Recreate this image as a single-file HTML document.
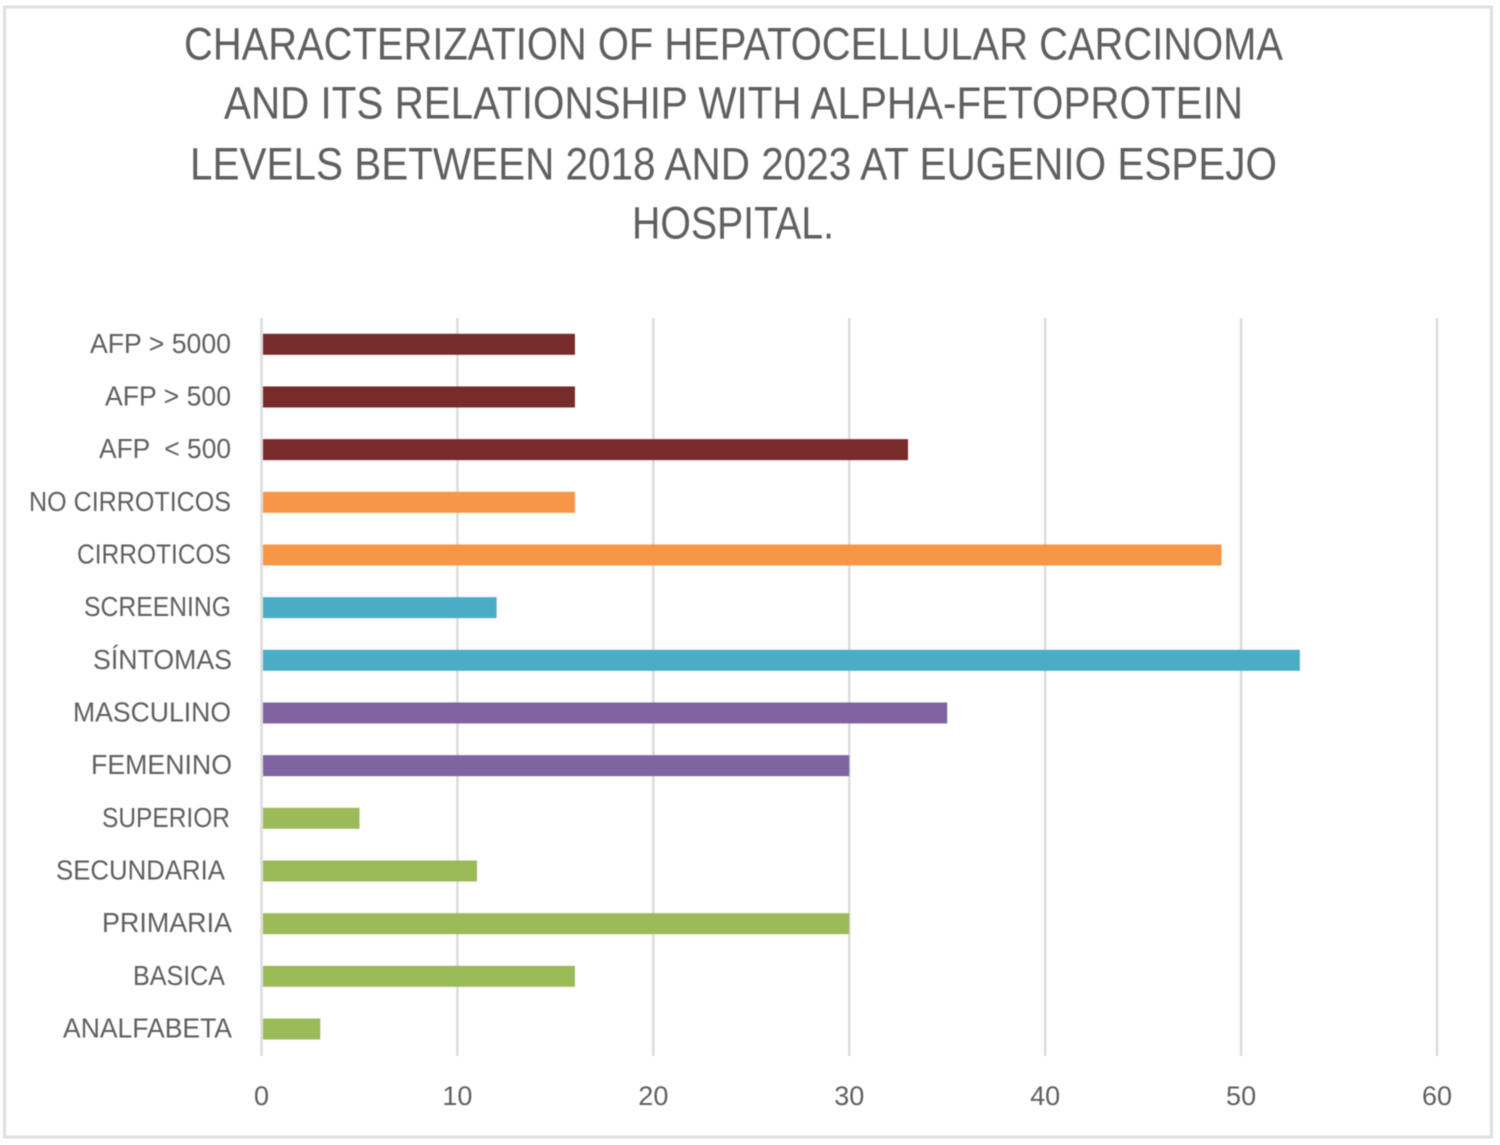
<!DOCTYPE html>
<html lang="en">
<head>
<meta charset="utf-8">
<title>Characterization of Hepatocellular Carcinoma</title>
<style>
html,body{margin:0;padding:0;background:#fff;width:1500px;height:1145px;overflow:hidden}
svg{display:block}
text{font-family:"Liberation Sans",sans-serif;fill:#5f5f5f}
#chart{filter:blur(0.4px)}
</style>
</head>
<body>
<svg id="chart" width="1500" height="1145" viewBox="0 0 1500 1145" xmlns="http://www.w3.org/2000/svg">
  <rect x="4.5" y="7" width="1487" height="1130" fill="#fff" stroke="#e0e0e0" stroke-width="3"/>
  <g font-size="45" text-anchor="start">
    <text x="184" y="59.5" textLength="1099" lengthAdjust="spacingAndGlyphs">CHARACTERIZATION OF HEPATOCELLULAR CARCINOMA</text>
    <text x="224" y="118.5" textLength="1019" lengthAdjust="spacingAndGlyphs">AND ITS RELATIONSHIP WITH ALPHA-FETOPROTEIN</text>
    <text x="190" y="179.5" textLength="1087" lengthAdjust="spacingAndGlyphs">LEVELS BETWEEN 2018 AND 2023 AT EUGENIO ESPEJO</text>
    <text x="632" y="238.5" textLength="202" lengthAdjust="spacingAndGlyphs">HOSPITAL.</text>
  </g>
  <g id="grid"></g>
  <g id="bars"></g>
  <g id="ylabels"></g>
  <g id="xlabels"></g>
</svg>
<script>
const categories = ["AFP > 5000","AFP > 500","AFP  < 500","NO CIRROTICOS","CIRROTICOS","SCREENING","SÍNTOMAS","MASCULINO","FEMENINO","SUPERIOR","SECUNDARIA","PRIMARIA","BASICA","ANALFABETA"];
const values = [16,16,33,16,49,12,53,35,30,5,11,30,16,3];
const groups = ["afp","afp","afp","cirrhosis","cirrhosis","detection","detection","sex","sex","education","education","education","education","education"];
const xTicks = [0,10,20,30,40,50,60];

const groupColors = {afp:"#772b2a",cirrhosis:"#f79646",detection:"#4bacc6",sex:"#8064a2",education:"#9bbb59"};
const labelFit = {
  "AFP > 5000":[231,141],"AFP > 500":[231,126],"AFP  < 500":[231,132],"NO CIRROTICOS":[231,202],
  "CIRROTICOS":[231,154],"SCREENING":[231,147],"SÍNTOMAS":[232,139],"MASCULINO":[231,158],
  "FEMENINO":[232,141],"SUPERIOR":[230,128],"SECUNDARIA":[225,169],"PRIMARIA":[232,130],
  "BASICA":[225,92],"ANALFABETA":[232,169]
};

const NS = "http://www.w3.org/2000/svg";
const xAxisMin = 0, xAxisMax = 60, plotLeft = 261.5, plotRight = 1437, plotTop = 318, plotBottom = 1056;
const firstRow = 344.3, lastRow = 1029, barHeight = 21;

function xScale(v){ return plotLeft + (v - xAxisMin) / (xAxisMax - xAxisMin) * (plotRight - plotLeft); }
function yScale(i){ return firstRow + i * (lastRow - firstRow) / (categories.length - 1); }
function slug(s){ return s.trim().toLowerCase().replace(/[^a-z0-9í]+/g,"-"); }

const grid = document.getElementById("grid");
const bars = document.getElementById("bars");
const ylabels = document.getElementById("ylabels");
const xlabels = document.getElementById("xlabels");

xTicks.forEach(function(t){
  const line = document.createElementNS(NS,"line");
  
  
  line.setAttribute("x1", xScale(t));
  line.setAttribute("x2", xScale(t));
  line.setAttribute("y1", plotTop);
  line.setAttribute("y2", plotBottom);
  line.setAttribute("stroke", "#dcdcdc");
  line.setAttribute("stroke-width", "2.5");
  grid.appendChild(line);

  const label = document.createElementNS(NS,"text");
  
  
  label.setAttribute("x", xScale(t));
  label.setAttribute("y", 1105);
  label.setAttribute("font-size", "27");
  label.setAttribute("text-anchor", "middle");
  label.textContent = t;
  xlabels.appendChild(label);
});

categories.forEach(function(name,i){
  const x0 = xScale(0) + 1.5;
  const rect = document.createElementNS(NS,"rect");
  
  
  rect.setAttribute("x", x0);
  rect.setAttribute("y", yScale(i) - barHeight / 2);
  rect.setAttribute("width", Math.max(0, xScale(values[i]) - x0));
  rect.setAttribute("height", barHeight);
  rect.setAttribute("fill", groupColors[groups[i]]);
  bars.appendChild(rect);

  const fit = labelFit[name];
  const text = document.createElementNS(NS,"text");
  
  
  text.setAttribute("x", fit[0] - fit[1]);
  text.setAttribute("y", yScale(i) + 8.5);
  text.setAttribute("font-size", "28");
  text.setAttribute("textLength", fit[1]);
  text.setAttribute("lengthAdjust", "spacingAndGlyphs");
  text.setAttribute("xml:space", "preserve");
  text.style.whiteSpace = "pre";
  text.textContent = name;
  ylabels.appendChild(text);
});
</script>
</body>
</html>
